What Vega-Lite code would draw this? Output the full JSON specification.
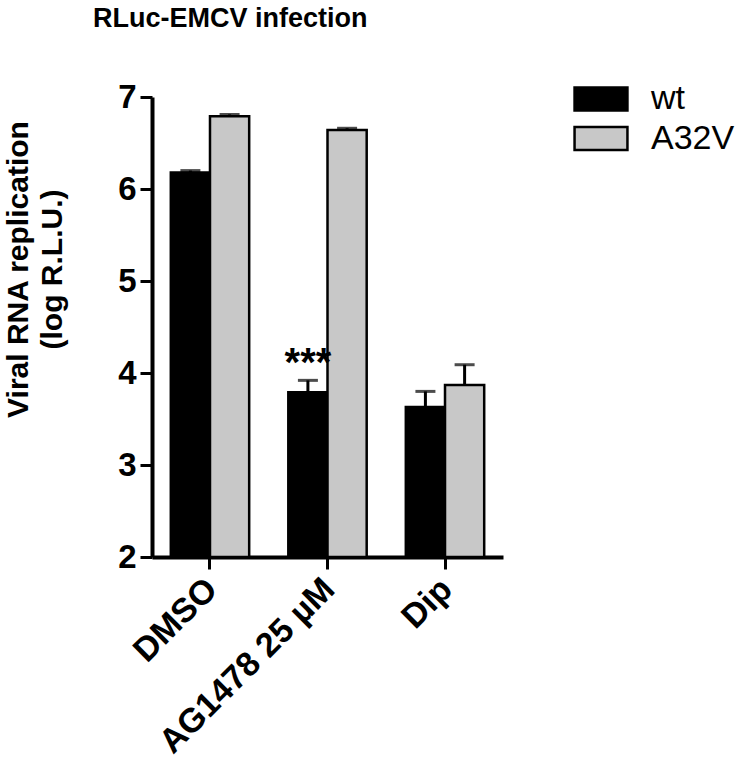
{
  "$schema": "https://vega.github.io/schema/vega-lite/v6.json",
  "autosize": "none",
  "padding": {"left": 152, "top": 97, "right": 237, "bottom": 208},
  "width": 351,
  "height": 460,
  "background": "white",
  "title": {
    "text": "RLuc-EMCV infection",
    "font": "Liberation Sans",
    "fontSize": 27,
    "fontWeight": "bold",
    "color": "black",
    "anchor": "start",
    "frame": "group",
    "dx": -59,
    "offset": 44
  },
  "config": {
    "view": {"stroke": null},
    "font": "Liberation Sans"
  },
  "data": {
    "values": [
      {"treatment": "DMSO", "strain": "wt", "mean": 6.18, "top": 6.2, "sig": ""},
      {"treatment": "DMSO", "strain": "A32V", "mean": 6.79, "top": 6.81, "sig": ""},
      {"treatment": "AG1478 25 µM", "strain": "wt", "mean": 3.79, "top": 3.92, "sig": "***"},
      {"treatment": "AG1478 25 µM", "strain": "A32V", "mean": 6.64, "top": 6.66, "sig": ""},
      {"treatment": "Dip", "strain": "wt", "mean": 3.63, "top": 3.8, "sig": ""},
      {"treatment": "Dip", "strain": "A32V", "mean": 3.87, "top": 4.09, "sig": ""}
    ]
  },
  "encoding": {
    "x": {
      "field": "treatment",
      "type": "nominal",
      "sort": ["DMSO", "AG1478 25 µM", "Dip"],
      "scale": {"paddingInner": 0.333, "paddingOuter": 0.16},
      "axis": {
        "title": null,
        "labelAngle": -45,
        "labelLimit": 0,
        "labelOffset": -10,
        "labelFont": "Liberation Sans",
        "labelFontSize": 34,
        "labelFontWeight": "bold",
        "labelColor": "black",
        "labelPadding": 3,
        "tickSize": 12,
        "tickWidth": 3,
        "tickColor": "black",
        "domainColor": "black",
        "domainWidth": 4
      }
    },
    "xOffset": {
      "field": "strain",
      "type": "nominal",
      "sort": ["wt", "A32V"],
      "scale": {"paddingInner": 0, "paddingOuter": 0}
    }
  },
  "layer": [
    {
      "mark": {"type": "bar", "stroke": "black", "strokeWidth": 2.5},
      "encoding": {
        "y": {
          "field": "mean",
          "type": "quantitative",
          "scale": {"domain": [2, 7], "zero": false, "nice": false},
          "axis": {
            "values": [2, 3, 4, 5, 6, 7],
            "format": "d",
            "grid": false,
            "title": ["Viral RNA replication", "(log R.L.U.)"],
            "titleFont": "Liberation Sans",
            "titleFontSize": 30,
            "titleFontWeight": "bold",
            "titleColor": "black",
            "titleAngle": -90,
            "titleAlign": "center",
            "titleBaseline": "top",
            "titleX": -149,
            "titleY": 172,
            "titleLineHeight": 34,
            "labelFont": "Liberation Sans",
            "labelFontSize": 33,
            "labelFontWeight": "bold",
            "labelColor": "black",
            "labelPadding": 4,
            "tickSize": 12,
            "tickWidth": 3,
            "tickColor": "black",
            "domainColor": "black",
            "domainWidth": 4
          }
        },
        "y2": {"datum": 2},
        "color": {
          "field": "strain",
          "type": "nominal",
          "sort": ["wt", "A32V"],
          "scale": {"domain": ["wt", "A32V"], "range": ["#000000", "#c8c8c8"]},
          "legend": {
            "title": null,
            "orient": "none",
            "legendX": 427,
            "legendY": -20,
            "symbolType": "M-1.29,-0.56H1.29V0.56H-1.29Z",
            "symbolSize": 1681,
            "symbolStrokeColor": "black",
            "symbolStrokeWidth": 2.5,
            "symbolOpacity": 1,
            "labelFont": "Liberation Sans",
            "labelFontSize": 34,
            "labelColor": "black",
            "labelOffset": 28,
            "rowPadding": 0.5
          }
        }
      }
    },
    {
      "mark": {"type": "rule", "color": "black", "strokeWidth": 3},
      "encoding": {
        "y": {"field": "mean", "type": "quantitative"},
        "y2": {"field": "top"}
      }
    },
    {
      "mark": {"type": "tick", "color": "black", "thickness": 3, "size": 20},
      "encoding": {
        "y": {"field": "top", "type": "quantitative"}
      }
    },
    {
      "mark": {"type": "text", "font": "Liberation Sans", "fontSize": 40, "fontWeight": "bold", "color": "black", "baseline": "alphabetic", "dy": -4},
      "encoding": {
        "y": {"field": "top", "type": "quantitative"},
        "text": {"field": "sig"}
      }
    }
  ]
}
